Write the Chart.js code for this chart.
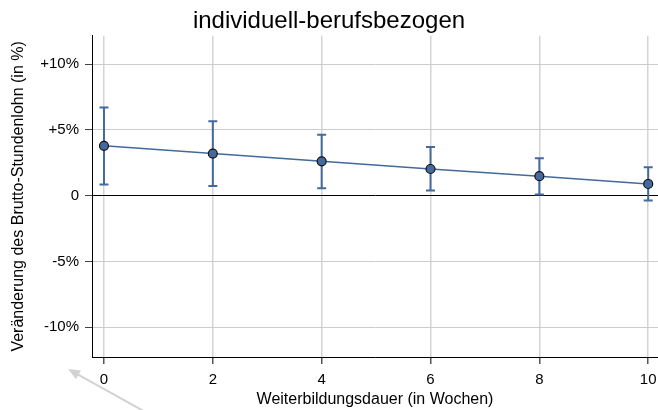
<!DOCTYPE html>
<html>
<head>
<meta charset="utf-8">
<script src="https://cdn.jsdelivr.net/npm/chart.js@4"></script>
<style>
  body { margin: 0; background: #fff; }
  canvas { display: block; }
</style>
</head>
<body>
<canvas id="chart" width="658" height="410"></canvas>
<script>
// Weiterbildungsdauer in Wochen
var weeks = [0, 2, 4, 6, 8, 10];
// Punktschätzer (Veränderung in %)
var effect = [3.79, 3.20, 2.61, 2.03, 1.48, 0.89];
// Konfidenzintervall
var ciLow = [0.85, 0.74, 0.57, 0.39, 0.09, -0.36];
var ciHigh = [6.70, 5.67, 4.64, 3.70, 2.84, 2.16];

var xTicks = [0, 2, 4, 6, 8, 10];
var yTicks = [-10, -5, 0, 5, 10];
var yTickLabels = ["-10%", "-5%", "0", "+5%", "+10%"];

var blue = "#43699d";
var font = "'Liberation Sans', Arial, sans-serif";

// error bars, drawn below the points
var errorBars = {
  id: "errorBars",
  beforeDatasetsDraw: function (chart) {
    var c = chart.ctx;
    var xs = chart.scales.x, ys = chart.scales.y;
    c.save();
    c.strokeStyle = blue;
    c.lineWidth = 2;
    for (var i = 0; i < weeks.length; i++) {
      var x = xs.getPixelForValue(weeks[i]);
      var y1 = ys.getPixelForValue(ciLow[i]);
      var y2 = ys.getPixelForValue(ciHigh[i]);
      c.beginPath();
      c.moveTo(x, y1); c.lineTo(x, y2);
      c.moveTo(x - 4.5, y1); c.lineTo(x + 4.5, y1);
      c.moveTo(x - 4.5, y2); c.lineTo(x + 4.5, y2);
      c.stroke();
    }
    c.restore();
  }
};

// grey pointer arrow in the lower left corner
var pointer = {
  id: "pointer",
  afterDraw: function (chart) {
    var c = chart.ctx, a = chart.chartArea;
    var tx = a.left - 24, ty = a.bottom + 12;
    var ex = tx + 90, ey = ty + 50;
    var ang = Math.atan2(ty - ey, tx - ex);
    c.save();
    c.strokeStyle = "#d2d2d2";
    c.fillStyle = "#d2d2d2";
    c.lineWidth = 2;
    c.beginPath();
    c.moveTo(ex, ey); c.lineTo(tx - 8 * Math.cos(ang), ty - 8 * Math.sin(ang));
    c.stroke();
    c.beginPath();
    c.moveTo(tx, ty);
    c.lineTo(tx - 13 * Math.cos(ang - 0.4), ty - 13 * Math.sin(ang - 0.4));
    c.lineTo(tx - 13 * Math.cos(ang + 0.4), ty - 13 * Math.sin(ang + 0.4));
    c.closePath();
    c.fill();
    c.restore();
  }
};

var ctx = document.getElementById("chart").getContext("2d");
var chart = new Chart(ctx, {
  type: "scatter",
  data: {
    datasets: [
      {
        label: "individuell-berufsbezogen",
        data: weeks.map(function (w, i) { return { x: w, y: effect[i] }; }),
        showLine: true,
        borderColor: blue,
        borderWidth: 1.5,
        backgroundColor: blue,
        pointBackgroundColor: blue,
        pointBorderColor: "#111",
        pointBorderWidth: 1.2,
        pointRadius: 4.5
      }
    ]
  },
  plugins: [errorBars, pointer],
  options: {
    responsive: false,
    animation: false,
    layout: { padding: 0, autoPadding: false },
    plugins: {
      legend: { display: false },
      tooltip: { enabled: false },
      title: {
        display: true,
        text: "individuell-berufsbezogen",
        color: "#000",
        font: { family: font, size: 24, weight: "normal" },
        padding: { top: 7, bottom: 0 }
      }
    },
    scales: {
      x: {
        type: "linear",
        min: -0.22,
        max: 10.18,
        afterBuildTicks: function (s) { s.ticks = xTicks.map(function (v) { return { value: v }; }); },
        afterFit: function (s) { s.height = 53; s.paddingLeft = 0; s.paddingRight = 0; },
        ticks: {
          color: "#000",
          padding: 7,
          font: { family: font, size: 15 },
          callback: function (v) { return String(v); }
        },
        grid: { color: "#d4d4d4", lineWidth: 1.5, tickLength: 7, tickColor: "#555" },
        border: { color: "#000", width: 1 },
        title: {
          display: true,
          text: "Weiterbildungsdauer (in Wochen)",
          color: "#000",
          font: { family: font, size: 16 },
          padding: { top: 2, bottom: 1 }
        }
      },
      y: {
        min: -12.27,
        max: 12.16,
        afterBuildTicks: function (s) { s.ticks = yTicks.map(function (v) { return { value: v }; }); },
        afterFit: function (s) { s.width = 92; },
        ticks: {
          color: "#000",
          padding: 6,
          font: { family: font, size: 15 },
          callback: function (v) { return yTickLabels[yTicks.indexOf(v)]; }
        },
        grid: {
          color: function (c) { return c.tick && c.tick.value === 0 ? "#000" : "#cccccc"; },
          lineWidth: 1,
          tickLength: 7,
          tickColor: "#444"
        },
        border: { color: "#000", width: 1 },
        title: {
          display: true,
          text: "Veränderung des Brutto-Stundenlohn (in %)",
          color: "#000",
          font: { family: font, size: 16 },
          padding: { top: 9, bottom: 2 }
        }
      }
    }
  }
});
</script>
</body>
</html>
